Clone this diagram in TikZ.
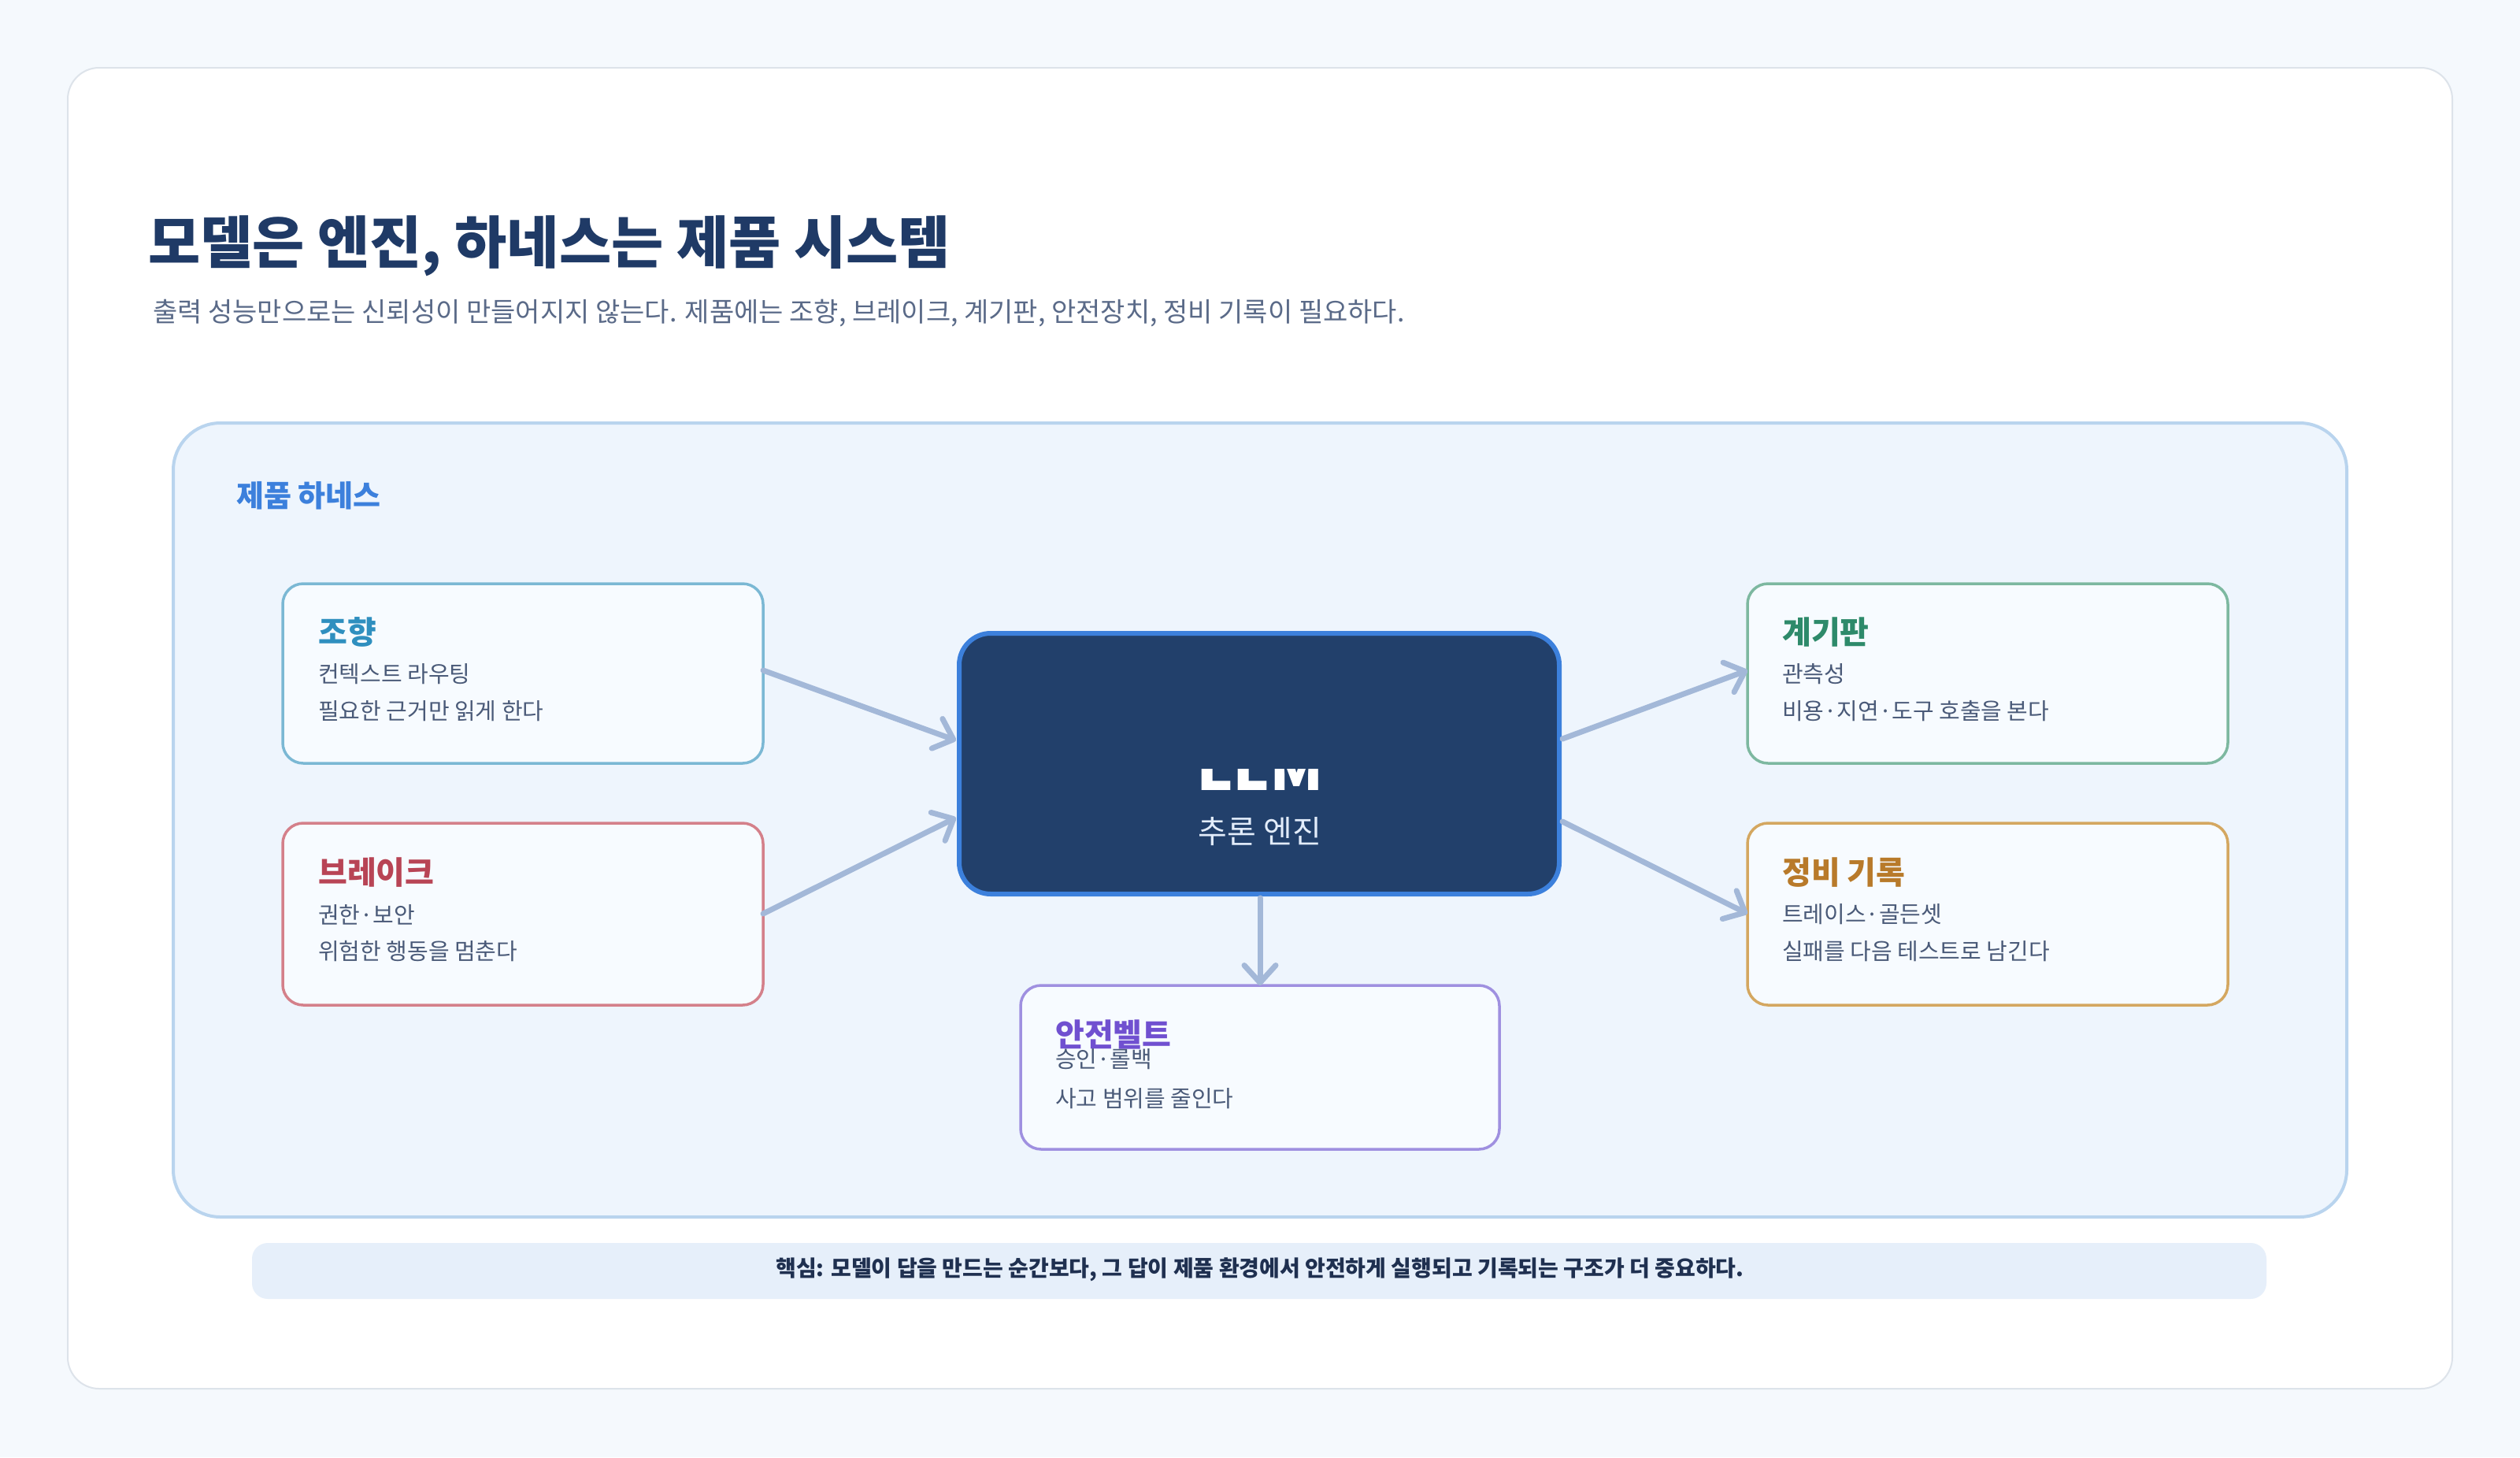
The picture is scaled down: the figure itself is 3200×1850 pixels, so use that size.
\documentclass[tikz,border=0pt]{standalone}
\usepackage{fontspec}
\setmainfont{Noto Sans CJK KR}
\usetikzlibrary{arrows.meta}
\definecolor{bg}{HTML}{F5F9FD}
\definecolor{card}{HTML}{FFFFFF}
\definecolor{cardb}{HTML}{DDE3EA}
\definecolor{panel}{HTML}{EEF5FD}
\definecolor{panelb}{HTML}{B9D4EE}
\definecolor{ttl}{HTML}{1F3A66}
\definecolor{sub}{HTML}{5A6A88}
\definecolor{body}{HTML}{4A5A78}
\definecolor{boxf}{HTML}{F7FBFF}
\definecolor{arr}{HTML}{A3B8D8}
\definecolor{llmf}{HTML}{22406B}
\definecolor{llmb}{HTML}{3C80DC}
\definecolor{c1}{HTML}{2F8FBF}\definecolor{b1}{HTML}{7BB8D4}
\definecolor{c2}{HTML}{B84455}\definecolor{b2}{HTML}{D4808A}
\definecolor{c3}{HTML}{2E8A6A}\definecolor{b3}{HTML}{7DB8A0}
\definecolor{c4}{HTML}{B87A2A}\definecolor{b4}{HTML}{D4A760}
\definecolor{c5}{HTML}{7050D0}\definecolor{b5}{HTML}{9F90E0}
\definecolor{barf}{HTML}{E6EFFA}
\definecolor{bart}{HTML}{1F3050}
\begin{document}
\begin{tikzpicture}[x=1pt,y=-1pt,
  box/.style={draw=#1,line width=3.5pt,fill=boxf,rounded corners=26pt},
  btitle/.style={anchor=west,inner sep=0pt,font=\fontsize{40}{48}\selectfont\bfseries},
  bbody/.style={anchor=west,inner sep=0pt,text=body,font=\fontsize{29}{35}\selectfont},
  con/.style={draw=arr,line width=7pt,line cap=round,-{Straight Barb[length=22pt,width=40pt,line width=7pt,round]}}]
\useasboundingbox (0,0) rectangle (3200,1850);
\fill[bg] (0,0) rectangle (3200,1850);
\draw[cardb,line width=2pt,fill=card,rounded corners=40pt] (86,86) rectangle (3114,1763);
\node[anchor=west,inner sep=0pt,text=ttl,font=\fontsize{72}{86}\selectfont\bfseries] (title) at (188,312) {모델은 엔진, 하네스는 제품 시스템};
\node[anchor=west,inner sep=0pt,text=sub,font=\fontsize{34}{40}\selectfont] (subt) at (194,398) {출력 성능만으로는 신뢰성이 만들어지지 않는다. 제품에는 조향, 브레이크, 계기판, 안전장치, 정비 기록이 필요하다.};
\draw[panelb,line width=4pt,fill=panel,rounded corners=60pt] (220,537) rectangle (2980,1545);
\node[anchor=west,inner sep=0pt,text=llmb,font=\fontsize{38}{46}\selectfont\bfseries] (plabel) at (300,629) {제품 하네스};
% boxes
\draw[box=b1] (359,741) rectangle (969,969); \coordinate (A) at (969,851);
\node[btitle,text=c1] (a1) at (404,802) {조향};
\node[bbody] (a2) at (404,856) {컨텍스트 라우팅};
\node[bbody] (a3) at (404,903) {필요한 근거만 읽게 한다};
\draw[box=b2] (359,1045) rectangle (969,1276); \coordinate (B) at (969,1160);
\node[btitle,text=c2] (b1n) at (404,1108) {브레이크};
\node[bbody] (b2n) at (404,1161) {권한·보안};
\node[bbody] (b3n) at (404,1208) {위험한 행동을 멈춘다};
\draw[box=b3] (2219,741) rectangle (2829,969); \coordinate (C) at (2219,851);
\node[btitle,text=c3] (c1n) at (2263,802) {계기판};
\node[bbody] (c2n) at (2263,856) {관측성};
\node[bbody] (c3n) at (2263,903) {비용·지연·도구 호출을 본다};
\draw[box=b4] (2219,1045) rectangle (2829,1276); \coordinate (D) at (2219,1160);
\node[btitle,text=c4] (d1n) at (2263,1108) {정비 기록};
\node[bbody] (d2n) at (2263,1161) {트레이스·골든셋};
\node[bbody] (d3n) at (2263,1208) {실패를 다음 테스트로 남긴다};
\draw[box=b5] (1296,1251) rectangle (1904,1459); \coordinate (E) at (1600,1251);
\node[btitle,text=c5] (e1n) at (1340,1313) {안전벨트};
\node[bbody] (e2n) at (1340,1345) {승인·롤백};
\node[bbody] (e3n) at (1340,1395) {사고 범위를 줄인다};
% LLM
\draw[llmb,line width=6pt,fill=llmf,rounded corners=40pt] (1218,804) rectangle (1980,1135);
\coordinate (L1) at (1214,940); \coordinate (L2) at (1214,1038);
\coordinate (R1) at (1984,938); \coordinate (R2) at (1984,1043);
\coordinate (Bt) at (1600,1140);
\begin{scope}
\clip (1300,976) rectangle (1900,1030);
\node[inner sep=0pt,text=white,font=\fontsize{78}{90}\selectfont\bfseries] (llm) at (1600,974) {LLM};
\end{scope}
\node[inner sep=0pt,text=white!85!llmb,font=\fontsize{40}{48}\selectfont] (eng) at (1600,1056) {추론 엔진};
% connectors
\draw[con] (A) -- (L1);
\draw[con] (B) -- (L2);
\draw[con] (R1) -- (C);
\draw[con] (R2) -- (D);
\draw[con] (Bt) -- (E);
% bottom
\fill[barf,rounded corners=20pt] (320,1578) rectangle (2878,1649);
\node[inner sep=0pt,text=bart,font=\fontsize{28}{34}\selectfont\bfseries] (key) at (1600,1612) {핵심: 모델이 답을 만드는 순간보다, 그 답이 제품 환경에서 안전하게 실행되고 기록되는 구조가 더 중요하다.};
\end{tikzpicture}
\end{document}
